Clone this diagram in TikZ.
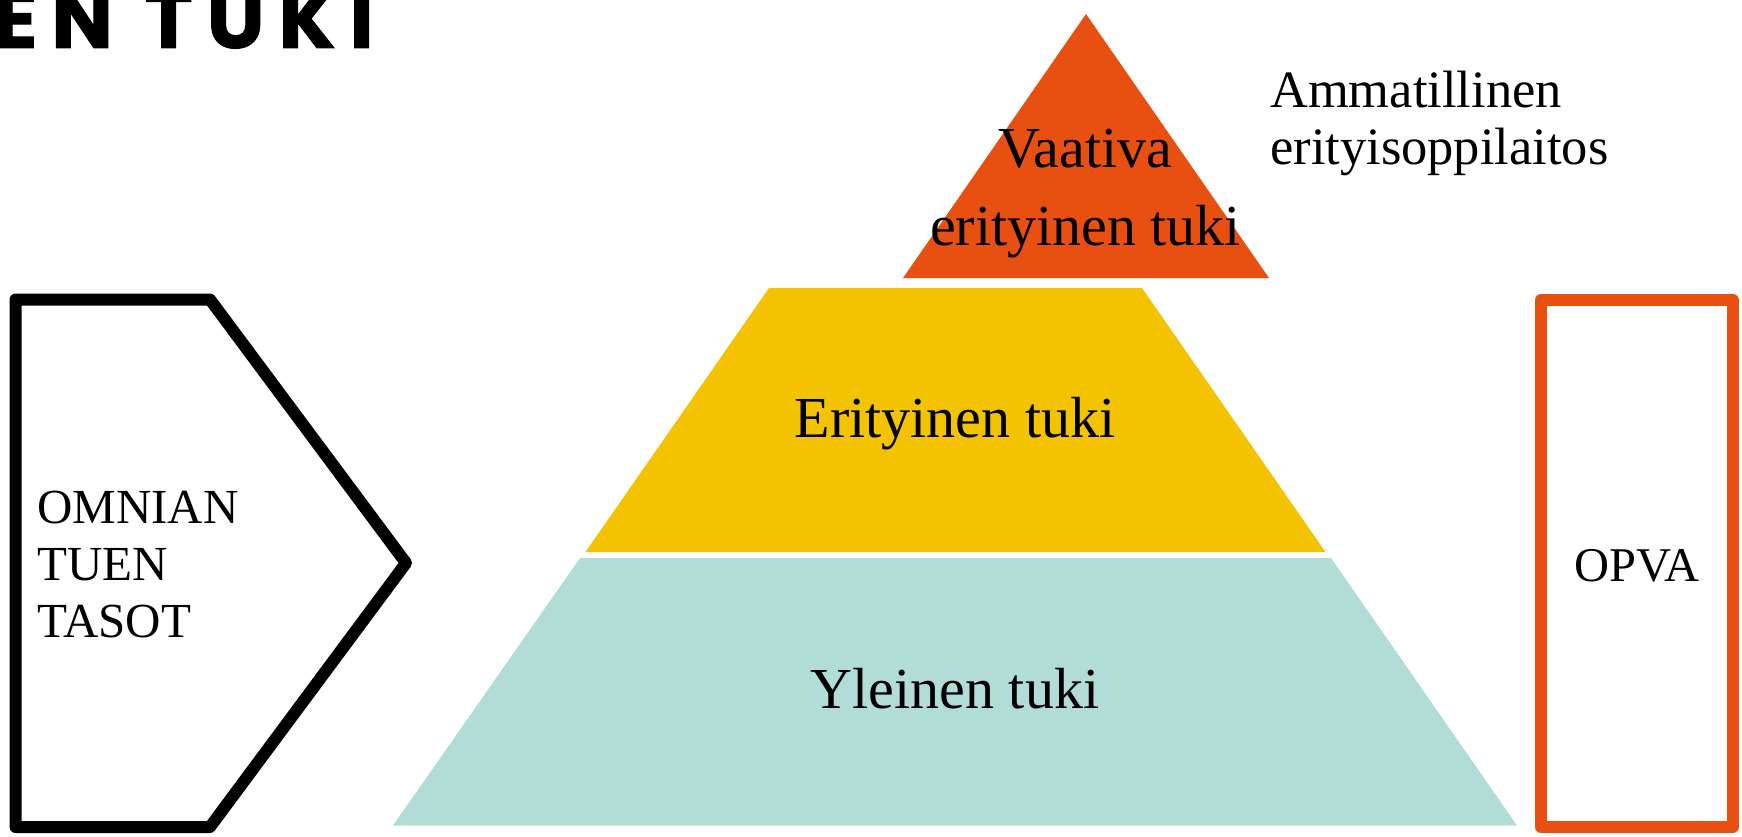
\documentclass[tikz,border=0pt]{standalone}
\usepackage{fontspec}
\setmainfont{Liberation Serif}
\newfontfamily\titlefont{Poppins}[LetterSpace=17,FakeBold=1.2]
\definecolor{orng}{RGB}{232,80,18}
\definecolor{yel}{RGB}{243,194,0}
\definecolor{tealc}{RGB}{178,221,214}
\tikzset{
  lbl/.style={inner sep=0pt, text=black},
  big/.style={lbl, font=\fontsize{58}{66}\selectfont},
  mid/.style={lbl, font=\fontsize{52.5}{57}\selectfont},
  side/.style={lbl, font=\fontsize{49}{57}\selectfont},
  frame/.style={line width=12pt, line join=round},
}
\begin{document}
\begin{tikzpicture}[x=1pt,y=-1pt]
\useasboundingbox (0,0) rectangle (1742,837);
\clip (0,0) rectangle (1742,837);
\fill[white] (0,0) rectangle (1742,837);
% title (cut off)
\node[lbl, anchor=base east, font=\titlefont\bfseries\fontsize{82}{82}\selectfont] (title) at (374,48) {EN TUKI};
% pyramid
\fill[orng] (1086,14) -- (1269,278) -- (903,278) -- cycle;
\fill[yel] (769,288) -- (1142,288) -- (1325.5,552) -- (585.5,552) -- cycle;
\fill[tealc] (580,558) -- (1331,558) -- (1517,825.5) -- (393,825.5) -- cycle;
\node[big, anchor=base] (vaat1) at (1085,168) {Vaativa};
\node[big, anchor=base] (vaat2) at (1085.5,245) {erityinen tuki};
\node[big, anchor=base] (erit) at (955,437) {Erityinen tuki};
\node[big, anchor=base] (ylei) at (955,708) {Yleinen tuki};
% right top label
\node[mid, anchor=base west] (amm1) at (1270,108) {Ammatillinen};
\node[mid, anchor=base west] (amm2) at (1270,165) {erityisoppilaitos};
% left arrow shape
\draw[frame, black] (15.5,299.5) -- (210,299.5) -- (406,563) -- (210,827) -- (15.5,827) -- cycle;
\node[side, anchor=base west] (om1) at (37,523) {OMNIAN};
\node[side, anchor=base west] (om2) at (37,580) {TUEN};
\node[side, anchor=base west] (om3) at (37,637) {TASOT};
% right box
\draw[frame, orng] (1541,300) rectangle (1732.5,827);
\node[side, anchor=base, font=\fontsize{48.5}{57}\selectfont] (opva) at (1637,581) {OPVA};
\end{tikzpicture}
\end{document}
